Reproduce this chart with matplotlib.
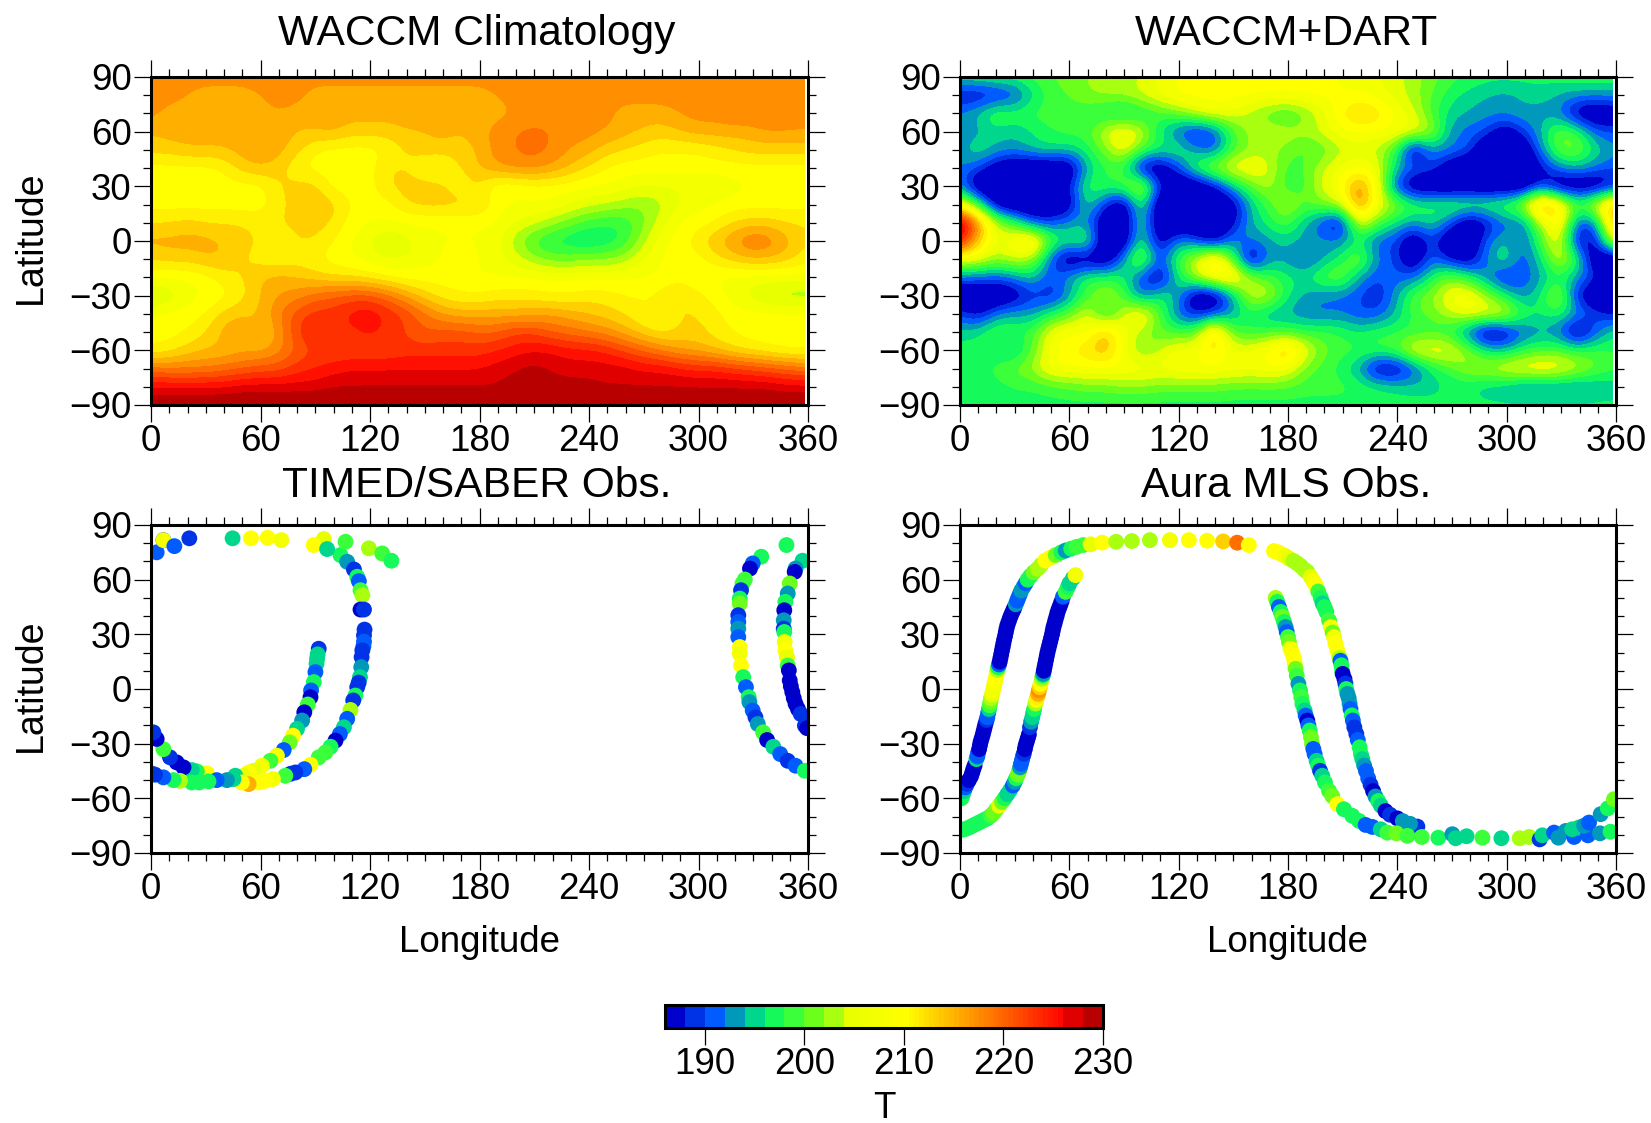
import matplotlib
matplotlib.use('Agg')
import matplotlib.pyplot as plt
import numpy as np
from matplotlib.colors import ListedColormap, BoundaryNorm, to_rgb
from matplotlib.patches import Rectangle
from matplotlib.ticker import MultipleLocator

# colour levels of the shared T scale
levels = list(range(186, 232, 2))
level_colors = ['#0000cc', '#0033e6', '#005cff', '#0099bb', '#00d68c', '#16f95a', '#3cff3c',
                '#6cff1c', '#a8ff10', '#e8ff00', '#f4ff00', '#ffff00', '#ffef00', '#ffcf00',
                '#ffaf00', '#ff8f00', '#ff6f00', '#ff5000', '#ff3000', '#ff1000', '#e00000', '#b80000']
cbar_ticks = [190, 200, 210, 220, 230]

lat_rows = [90, 80, 70, 60, 50, 40, 30, 20, 10, 0, -10, -20, -30, -40, -50, -60, -70, -80, -90]

# WACCM climatology, one row per latitude, 10 degree longitude steps
waccm = [
    [217]*37,
    [217,217,216,215,215,215,216,217,217,215,215,215,215,215,215,215,215,215,215,216,217,217,217,217,217,217,217,217,217,217,217,217,217,217,217,217,217],
    [217,215,215,215,215,215,215,216,215,215,215,215,215,215,215,215,215,215,215,215,216,216,217,217,217,217,215,215,215,216,217,217,218,218,219,218,217],
    [214,215,215,215,215,215,215,215,214,214,215,213,213,213,214,214,215,214,215,217,218,219,218,217,217,216,215,214,213,214,215,215,215,215,216,216,216],
    [213,213,214,214,214,215,216,215,213,210,209,209,209,210,212,213,213,213,214,217,218,219,218,216,215,213,212,211,210,210,210,211,212,213,213,213,213],
    [209,209,209,209,210,213,214,213,210,209,209,209,209,212,212,210,209,212,214,216,217,217,216,214,212,210,209,209,209,209,209,209,209,209,209,209,209],
    [209,209,209,209,209,209,209,212,213,213,209,209,209,212,213,213,213,210,212,208,208,209,209,209,208,208,207,206,206,206,206,206,207,208,209,209,209],
    [209,209,209,209,209,209,209,211,213,214,213,210,209,209,212,213,213,213,213,209,208,208,208,206,205,204,203,202,203,206,207,208,209,209,209,209,209],
    [212,212,213,212,212,212,211,212,213,213,212,209,208,208,208,208,208,208,208,208,206,205,203,201,199,198,198,201,205,208,209,210,212,213,213,212,212],
    [215,215,215,215,214,213,212,209,212,212,210,208,206,203,205,207,208,208,208,207,203,199,197,196,195,196,198,203,207,209,211,214,216,219,218,215,212],
    [212,213,213,214,214,212,211,210,211,210,209,208,207,206,206,207,208,209,208,207,205,203,201,201,202,202,203,206,208,209,209,211,213,214,214,213,211],
    [209,208,208,209,211,212,214,215,214,213,212,212,211,210,209,209,209,209,208,208,208,208,208,208,208,208,208,208,208,209,208,208,207,207,207,207,207],
    [202,204,207,208,209,211,214,216,217,219,220,221,221,219,216,213,211,210,210,211,211,211,210,210,211,211,210,210,211,213,211,209,207,205,203,202,202],
    [208,209,209,210,213,214,214,218,221,223,223,225,226,224,222,219,216,215,215,215,215,215,216,215,214,213,212,210,209,212,212,211,209,209,209,209,209],
    [209,209,210,212,215,216,213,216,222,225,224,223,225,223,222,220,221,221,220,220,222,222,220,219,218,217,215,213,211,212,213,211,210,209,209,209,209],
    [210,211,213,214,214,215,215,217,220,222,222,222,222,222,223,223,223,223,223,224,225,226,226,225,225,224,222,220,218,216,215,214,212,211,210,209,209],
    [219,218,218,218,219,220,221,221,223,224,225,226,226,226,226,226,226,226,226,227,228,229,228,227,227,227,227,226,226,225,224,224,223,222,221,220,219],
    [226,226,226,226,226,227,227,227,227,227,228,228,228,228,228,228,228,228,228,228,229,229,229,229,229,228,228,228,228,228,228,228,228,228,228,227,227],
    [231]*37,
]

# WACCM+DART, the dark blobs run off the low end of the scale
dart = [
    [197,197,198,198,199,200,201,202,203,203,204,206,208,208,208,208,208,208,208,208,208,208,207,206,205,203,201,199,198,197,197,197,197,197,198,198,198],
    [186,186,187,189,195,199,200,202,203,203,205,207,209,209,209,209,209,209,209,209,209,208,208,207,205,203,200,197,195,194,193,194,195,194,193,193,193],
    [193,195,200,198,199,199,199,198,196,194,196,199,201,205,207,206,203,200,198,201,205,210,214,212,208,205,199,195,194,193,193,194,193,192,184,182,184],
    [192,193,195,194,196,198,199,199,205,209,205,196,190,186,189,199,203,204,204,203,205,208,208,208,208,207,204,193,191,190,184,189,194,201,199,191,190],
    [193,197,194,193,195,196,195,197,201,207,200,197,198,193,190,199,202,203,201,199,200,203,205,203,199,182,193,192,191,182,182,182,192,201,202,196,193],
    [192,190,184,182,182,182,182,194,198,198,184,182,189,199,204,207,208,205,199,200,204,207,208,207,195,192,190,184,182,182,182,182,186,192,194,192,190],
    [192,182,182,182,182,182,188,198,198,200,207,189,182,182,186,194,200,204,198,199,205,209,218,208,189,182,182,182,182,182,182,182,189,182,182,182,186],
    [208,199,184,182,182,182,184,197,189,182,199,182,182,182,182,184,194,199,204,200,202,204,219,207,203,199,198,199,200,199,200,204,219,213,200,207,217],
    [232,218,204,199,190,190,193,193,182,182,198,182,182,182,182,186,194,197,200,194,189,184,207,200,196,193,196,191,182,186,191,191,203,212,190,190,216],
    [226,214,205,209,214,200,197,200,182,182,198,184,193,190,184,193,192,193,195,193,193,192,196,190,190,182,190,182,182,191,195,190,199,208,186,186,207],
    [207,206,203,205,203,190,182,184,182,193,205,189,199,205,214,201,182,193,193,190,193,197,203,192,190,182,192,187,184,192,198,190,195,206,199,182,182],
    [191,191,190,192,195,190,194,198,198,197,189,184,196,204,209,213,203,199,197,196,200,202,193,190,191,191,197,202,198,192,187,190,193,197,193,190,182],
    [182,182,182,184,189,187,192,199,204,200,190,197,194,182,182,192,205,205,197,193,192,191,190,187,193,200,202,207,209,203,197,192,196,205,187,182,182],
    [190,186,192,194,193,197,200,206,195,204,210,200,191,187,189,193,197,193,193,192,191,192,190,190,194,199,201,204,207,207,207,199,196,198,194,190,187],
    [195,196,200,198,199,207,208,207,215,207,203,200,199,200,216,200,198,199,199,198,199,198,196,198,198,198,198,197,190,182,184,190,193,191,182,190,196],
    [197,197,196,194,200,207,210,212,215,207,201,204,208,207,212,206,207,209,216,207,201,199,199,199,200,207,208,207,202,196,194,198,199,200,198,199,198],
    [198,197,199,201,203,208,208,208,208,208,208,207,208,208,208,208,207,208,207,201,199,197,193,184,184,189,196,199,203,204,207,208,209,208,205,201,199],
    [197,197,197,198,198,199,200,201,201,202,202,201,201,201,201,200,200,200,200,199,199,199,198,197,196,195,195,196,196,194,193,191,191,191,191,193,194],
    [197]*37,
]

# TIMED/SABER tracks
saber_top_lon = [3.1, 6.8, 6.8, 12.8, 21, 44.7, 54.8, 63.9, 71.4, 94.7, 89.2, 96.5, 106.6, 119.4, 126.7, 131.7]
saber_top_lat = [75, 81.7, 81.7, 78.4, 82.7, 82.7, 82.7, 83, 81.7, 82.3, 79, 76.8, 80.8, 77.2, 74.4, 70.4]
saber_top_t = [190, 188, 207, 191, 189, 195, 208, 208, 206, 204, 209, 195, 199, 203, 198, 196]

saber_a_lon = [103.8, 107.5, 111.2, 113, 113.9, 114.8, 115.8, 114.8, 116.7, 117, 116.7, 116.7, 116.4, 115.8, 115.4, 115.2, 114.5, 113.8, 113, 112, 110.8, 109.3, 107.5, 105.7, 103.5, 101.1, 98.4, 95.6, 91.9, 87.4, 84, 79.1, 76.5, 73.6, 66.8, 62.6, 59, 53.5, 49.8, 45.2, 41.6, 36, 31.5, 26.4, 22.3, 15.9, 12.3, 6.8, 2.2, 0.5]
saber_a_lat = [73.5, 69.8, 65.6, 61.6, 59.2, 54.2, 51.5, 43.6, 43.6, 32.6, 29.4, 26, 23.5, 21.2, 17.5, 12, 6.5, 3.5, 1, -3.6, -6.3, -11.5, -16.4, -21, -24.7, -28.3, -31.7, -34.8, -37.5, -41.6, -44, -45.8, -46.5, -47.6, -49.4, -50.4, -51.3, -52.2, -51.3, -49.4, -50, -50, -50.7, -51.3, -51.3, -50.4, -50, -48.5, -47, -46.5]
saber_a_t = [196, 193, 188, 197, 191, 198, 202, 187, 188, 189, 189, 190, 190, 188, 189, 193, 195, 188, 188, 197, 189, 203, 190, 195, 190, 187, 197, 198, 199, 208, 191, 188, 188, 198, 207, 208, 208, 214, 208, 195, 193, 190, 196, 197, 197, 202, 196, 191, 189, 189]

saber_b_lon = [91.9, 91.3, 91, 90.7, 90.1, 89.2, 87.7, 87.4, 85.9, 84, 82.8, 80, 77.8, 76, 72.7, 69, 65.4, 60.8, 56.2, 53.5, 50.7, 46.2, 30.6, 25.1, 22.3, 17.8, 14.1, 10.4, 6.8, 3.1, 1.3]
saber_b_lat = [22.1, 19, 16.6, 13.9, 9.3, 3.8, -0.8, -4.5, -8.5, -12.8, -17.3, -21.9, -25.6, -29.3, -33.5, -36.6, -39.4, -42.1, -44.9, -45.8, -47.6, -47.6, -46.3, -45.2, -44.5, -43, -40.3, -37.5, -33, -27.4, -23.8]
saber_b_t = [188, 195, 195, 195, 191, 196, 190, 187, 199, 187, 193, 194, 208, 200, 191, 207, 199, 206, 205, 209, 204, 195, 208, 197, 195, 187, 187, 188, 198, 187, 188]

saber_c_lon = [334.4, 329.7, 328.2, 325.4, 324.1, 323.3, 322.6, 322.6, 321.8, 321.8, 321.8, 321.8, 322.6, 322.6, 323.3, 324.5, 326, 327.5, 327.9, 329.7, 331.2, 332.5, 335.4, 337.6, 341, 344.8, 348.9, 353.2, 358.3]
saber_c_lat = [72.6, 68.9, 66.1, 60.1, 57.9, 54.2, 49.6, 46.9, 40.5, 36.8, 33.1, 28.5, 23, 19.4, 12.9, 6.5, 1, -4.5, -7.2, -11.8, -15.5, -19.2, -23.8, -28, -31.7, -35.7, -39.4, -42.1, -44.9]
saber_c_t = [196, 191, 187, 199, 198, 189, 197, 200, 188, 190, 193, 191, 208, 206, 208, 197, 190, 197, 193, 191, 188, 193, 198, 187, 195, 190, 188, 190, 196]

saber_d_lon = [348.2, 357, 353.2, 352.7, 350, 348.9, 347.6, 347, 346.7, 346.7, 347, 347.2, 347.6, 348.5, 348.9, 349.5, 350, 350.6, 351.4, 352.2, 353.2, 354.5, 356, 358.3, 359.5]
saber_d_lat = [79, 70.4, 66.1, 64.3, 57.9, 52.4, 47.8, 43.2, 37.7, 33.1, 31.3, 25.8, 21.2, 17.5, 12.9, 10.2, 4.7, 1.5, -1.7, -5, -8.2, -11, -13.7, -20.1, -21.5]
saber_d_t = [197, 195, 193, 187, 200, 193, 196, 187, 193, 188, 196, 207, 208, 205, 199, 187, 187, 187, 187, 187, 187, 187, 189, 188, 187]

# Aura MLS tracks
mls_a_lon = [0.8, 1.5, 2.2, 2.9, 3.8, 4.9, 6, 6.7, 7.3, 8, 9, 9.5, 9.9, 10.5, 10.9, 11.3, 11.9, 12.5, 13, 13.5, 14, 14.6, 15, 15.5, 15.9, 16.3, 16.7, 17, 17.6, 18, 18.5, 19, 19.4, 19.9, 20.2, 20.6, 21, 21.4, 21.8, 22.2, 22.6, 23, 23.4, 23.8, 24.2, 24.7, 25.1, 25.5, 26, 26.7, 27.4, 28.2, 29.1, 29.8, 30.6, 31.4, 32, 32.8, 33.6, 34.8, 36, 37.1, 38.6, 40.4, 42.6, 44.4, 46.8, 49.5, 52.5, 55.6, 58, 61, 64, 67.5, 71.7]
mls_a_lat = [-60, -58, -56, -54, -52, -50, -48, -46, -44, -42, -38.5, -37, -35, -33, -31, -29, -27, -25, -23, -21, -19, -17, -15.5, -13, -11, -9, -7, -5, -3, -1, 1, 3, 5, 7, 9, 10.5, 12, 13.5, 15, 17, 19, 21, 23, 25, 27, 29, 31, 33, 35, 37, 39, 41, 43, 44.5, 46.5, 48.5, 50, 52, 54, 56, 58, 60, 62, 64, 66, 68, 70.5, 72, 73.5, 75, 76, 77, 78, 79, 79.4]
mls_a_t = [197, 197, 195, 191, 189, 187, 187, 187, 187, 187, 195, 191, 191, 187, 187, 187, 187, 187, 187, 187, 187, 189, 191, 191, 194, 198, 201, 202, 205, 206, 207, 207, 208, 208, 208, 203, 197, 191, 187, 187, 187, 187, 187, 187, 187, 187, 187, 187, 187, 187, 187, 187, 187, 187, 193, 190, 190, 190, 193, 193, 191, 197, 197, 200, 203, 203, 208, 208, 201, 197, 193, 196, 199, 199, 205]

mls_b_lon = [1, 3, 5, 7, 9, 11, 13, 15, 17, 18.5, 20, 21.4, 23, 24.5, 26, 27.5, 29, 30, 30.8, 31.7, 32.4, 33, 33.5, 34, 34.5, 35, 35.6, 36, 36.6, 37.2, 37.8, 38.4, 39, 39.7, 40.2, 40.7, 41.4, 41.9, 42.3, 42.9, 43.3, 43.8, 44.2, 44.9, 45.4, 45.7, 46, 46.4, 46.8, 47.2, 47.6, 48, 48.5, 49, 49.5, 50, 50.5, 50.9, 51.3, 51.9, 52.4, 53, 53.5, 54.2, 55, 55.7, 56.5, 58, 59.2, 60.1, 61.9, 63.4]
mls_b_lat = [-77.3, -76.8, -76, -75, -74, -73, -72, -71, -69.5, -68, -66, -64, -62, -60, -57.7, -55.5, -53, -51, -49, -47, -45, -43, -41, -39, -37, -35.5, -33, -31, -29, -27, -25, -21, -18, -15.5, -13, -11, -8, -6, -4.5, -2.7, -0.8, 1, 2.8, 5.6, 7.4, 8.3, 10, 12, 14, 16, 18, 20, 22, 24, 26, 28, 30, 32, 34, 36, 38, 40, 42, 44, 46, 48, 50.6, 53.3, 56, 58, 60.7, 62.5]
mls_b_t = [197, 197, 196, 197, 197, 197, 197, 196, 198, 201, 201, 205, 201, 196, 194, 194, 190, 193, 197, 200, 201, 193, 190, 191, 191, 188, 187, 187, 187, 187, 187, 189, 193, 195, 195, 197, 203, 207, 210, 214, 216, 212, 208, 203, 196, 193, 187, 187, 187, 187, 187, 187, 187, 187, 187, 187, 187, 187, 187, 187, 187, 187, 187, 187, 187, 187, 190, 199, 197, 195, 194, 206]

mls_top_lon = [78, 85.7, 94.3, 104.2, 115.2, 125.6, 135.6, 144.4, 152.1, 158.5]
mls_top_lat = [80.3, 80.8, 81.2, 81.7, 81.7, 81.7, 81.4, 81, 80.3, 79]
mls_top_t = [208, 203, 202, 202, 207, 208, 208, 212, 218, 209]

mls_c_lon = [172.3, 174.5, 176.5, 178.5, 180.5, 183, 185, 187, 189, 190.6, 192.5, 194, 195.2, 196.6, 198, 199, 200, 201, 202.5, 203.5, 204.5, 205.3, 206, 207, 207.8, 208.3, 208.8, 209.3, 209.7, 210, 211, 211.5, 212, 212.6, 213.3, 213.8, 214.3, 215, 215.6, 216.4, 217.5, 218.3, 219.3, 220, 220.8, 221.8, 222.8, 224, 225.3, 226.7, 228, 229.5, 231, 233.5, 236, 240, 251, 247, 243]
mls_c_lat = [75.7, 75, 74, 73, 71.7, 70.3, 69, 67.5, 65.5, 64.3, 61.5, 59, 57, 53.5, 50, 47, 45, 42.5, 37.7, 34, 31, 28.5, 25, 21.5, 19, 17, 15.5, 13, 10, 8.3, 5.5, 3, 0, -2.7, -5, -8, -11, -14.5, -17.3, -21, -24.7, -28, -32, -35.7, -38.5, -42, -45, -49, -52.5, -56, -59, -61.5, -64, -67, -69, -71, -75.5, -74, -72.5]
mls_c_t = [208, 208, 208, 207, 205, 203, 203, 203, 203, 203, 204, 207, 208, 198, 197, 195, 196, 197, 198, 207, 201, 206, 208, 208, 208, 203, 190, 197, 196, 187, 187, 189, 196, 193, 193, 193, 191, 196, 190, 189, 189, 190, 196, 197, 195, 193, 190, 190, 188, 187, 193, 196, 195, 187, 188, 187, 188, 193, 193]

mls_d_lon = [173.2, 174.1, 175, 176, 176.9, 177.8, 178.7, 179.3, 180, 180.5, 181.4, 182.4, 183.3, 183.7, 184.2, 184.8, 185.7, 186.6, 187.3, 187.9, 189.1, 189.7, 190.6, 191.2, 191.9, 192.6, 193.2, 193.9, 194.6, 195.7, 196.6, 197.6, 198.8, 200.3, 202.5, 204.3, 207.1, 210.7, 215.3, 219, 222.6, 226.3, 230.9, 234.5, 239.5, 245.5, 253.4, 262.5, 270.2, 272, 278, 286.7, 297.1, 307.1, 312.3, 318.1]
mls_d_lat = [50, 47.8, 45, 42.3, 39.5, 36.8, 34, 31.3, 28.5, 25.8, 22.1, 19.4, 16.6, 13.9, 11.1, 7.4, 2.8, -0.8, -4.5, -8.2, -11.8, -14.6, -17.3, -20, -22.8, -26.5, -30.2, -32.9, -35.7, -39.4, -42.1, -44.9, -47.6, -51.3, -55.9, -58.7, -63.2, -66, -69.6, -72.4, -74.6, -75.7, -77, -78.8, -79.2, -80.6, -81.2, -81.6, -79.7, -81.9, -80.8, -81.6, -81.9, -81.9, -81.2, -82.5]
mls_d_t = [202, 197, 191, 197, 200, 197, 193, 190, 198, 201, 206, 208, 208, 208, 201, 198, 193, 196, 198, 196, 195, 190, 187, 190, 196, 200, 201, 191, 190, 194, 196, 189, 195, 197, 198, 201, 208, 196, 197, 196, 191, 191, 195, 198, 201, 198, 199, 197, 193, 195, 194, 198, 195, 203, 203, 188]

mls_e_lon = [319.6, 326, 328.4, 332.4, 337, 336, 339.7, 344.6, 342.5, 345.2, 351.2, 351.6, 357, 355.5, 358.9]
mls_e_lat = [-80.3, -78.8, -81.6, -77.9, -81.2, -77, -76, -80.3, -75, -73.3, -79.2, -68.7, -78.3, -65.5, -60.5]
mls_e_t = [195, 191, 193, 193, 191, 195, 195, 191, 193, 191, 193, 193, 197, 197, 201]

saber_tracks = [(saber_c_lon, saber_c_lat, saber_c_t), (saber_d_lon, saber_d_lat, saber_d_t),
                (saber_b_lon, saber_b_lat, saber_b_t), (saber_a_lon, saber_a_lat, saber_a_t),
                (saber_top_lon, saber_top_lat, saber_top_t)]
mls_tracks = [(mls_a_lon, mls_a_lat, mls_a_t), (mls_b_lon, mls_b_lat, mls_b_t),
              (mls_top_lon, mls_top_lat, mls_top_t), (mls_c_lon, mls_c_lat, mls_c_t),
              (mls_d_lon, mls_d_lat, mls_d_t), (mls_e_lon, mls_e_lat, mls_e_t)]

plt.rcParams['font.family'] = ['Liberation Sans', 'DejaVu Sans']
plt.rcParams['font.size'] = 26.5

W, H = 1651, 1123
cmap = ListedColormap(level_colors)
norm = BoundaryNorm(levels, cmap.N)

fig = plt.figure(figsize=(W/100, H/100), dpi=100)


def pixel_axes(left, top, right, bottom):
    return fig.add_axes([left/W, 1 - bottom/H, (right - left)/W, (bottom - top)/H])


def style_map(ax, title, title_x, title_pad, left_label=True, bottom_label=False):
    ax.set_xlim(0, 360)
    ax.set_ylim(-90, 90)
    ax.xaxis.set_major_locator(MultipleLocator(60))
    ax.xaxis.set_minor_locator(MultipleLocator(10))
    ax.yaxis.set_major_locator(MultipleLocator(30))
    ax.yaxis.set_minor_locator(MultipleLocator(10))
    ax.tick_params(which='major', direction='out', top=True, right=True, length=12, width=0.9, pad=2, labelsize=26.5)
    ax.tick_params(which='minor', direction='out', top=True, right=True, length=6, width=0.9)
    for spine in ax.spines.values():
        spine.set_linewidth(2.2)
        spine.set_zorder(5)
    ax.set_title(title, fontsize=30.6, pad=title_pad, x=title_x)
    if left_label:
        ax.set_ylabel('Latitude', fontsize=27, va='center')
        ax.yaxis.set_label_coords(-0.183, 0.51)
    if bottom_label:
        ax.set_xlabel('Longitude', fontsize=26.5, va='center')
        ax.xaxis.set_label_coords(0.5, -0.273)


def draw_field(ax, field):
    # the model grid stops just short of 360
    step = 358/36
    im = ax.imshow(field, extent=(-step/2, 358 + step/2, -95, 95), origin='upper', aspect='auto',
                   cmap=cmap, norm=norm, interpolation='bicubic')
    im.set_clip_path(Rectangle((0, -90), 358, 180, transform=ax.transData))
    ax.set_xlim(0, 360)
    ax.set_ylim(-90, 90)


ax_a = pixel_axes(151, 77, 808, 405)
ax_b = pixel_axes(960, 77, 1616, 405)
ax_c = pixel_axes(151, 525, 808, 853)
ax_d = pixel_axes(960, 525, 1616, 853)

draw_field(ax_a, waccm)
draw_field(ax_b, dart)

for lon, lat, t in saber_tracks:
    ax_c.scatter(lon, lat, c=t, cmap=cmap, norm=norm, s=130, linewidths=0)
for lon, lat, t in mls_tracks:
    ax_d.scatter(lon, lat, c=t, cmap=cmap, norm=norm, s=130, linewidths=0)

style_map(ax_a, 'WACCM Climatology', 0.496, 23)
style_map(ax_b, 'WACCM+DART', 0.497, 23, left_label=False)
style_map(ax_c, 'TIMED/SABER Obs.', 0.496, 20, bottom_label=True)
style_map(ax_d, 'Aura MLS Obs.', 0.497, 20, left_label=False, bottom_label=True)

# the colour bar runs smoothly from 204 to 226, unlike the contour bands
cbar_levels = list(range(186, 204, 2)) + list(np.arange(204, 226.5, 0.5)) + [228, 230]
cbar_colors = level_colors[:9]
for v in cbar_levels[9:-3]:
    if v < 210:
        cbar_colors.append(tuple(np.interp((v - 204)/6, [0, 1], c) for c in zip(to_rgb('#e8ff00'), to_rgb('#ffff00'))))
    else:
        cbar_colors.append((1.0, (226 - v)/16, 0.0))
cbar_colors += ['#e00000', '#b80000']
cbar_cmap = ListedColormap(cbar_colors)
cbar_norm = BoundaryNorm(cbar_levels, cbar_cmap.N)

cax = pixel_axes(665, 1005, 1103, 1028)
sm = plt.cm.ScalarMappable(norm=cbar_norm, cmap=cbar_cmap)
cb = fig.colorbar(sm, cax=cax, orientation='horizontal', ticks=cbar_ticks, spacing='proportional', drawedges=False)
cb.minorticks_off()
cb.outline.set_linewidth(2.2)
cax.tick_params(direction='out', length=12, width=0.9, pad=2, labelsize=26.5)
cb.set_label('T', fontsize=26.5, labelpad=6.5)

fig.savefig('out.png', dpi=100)
